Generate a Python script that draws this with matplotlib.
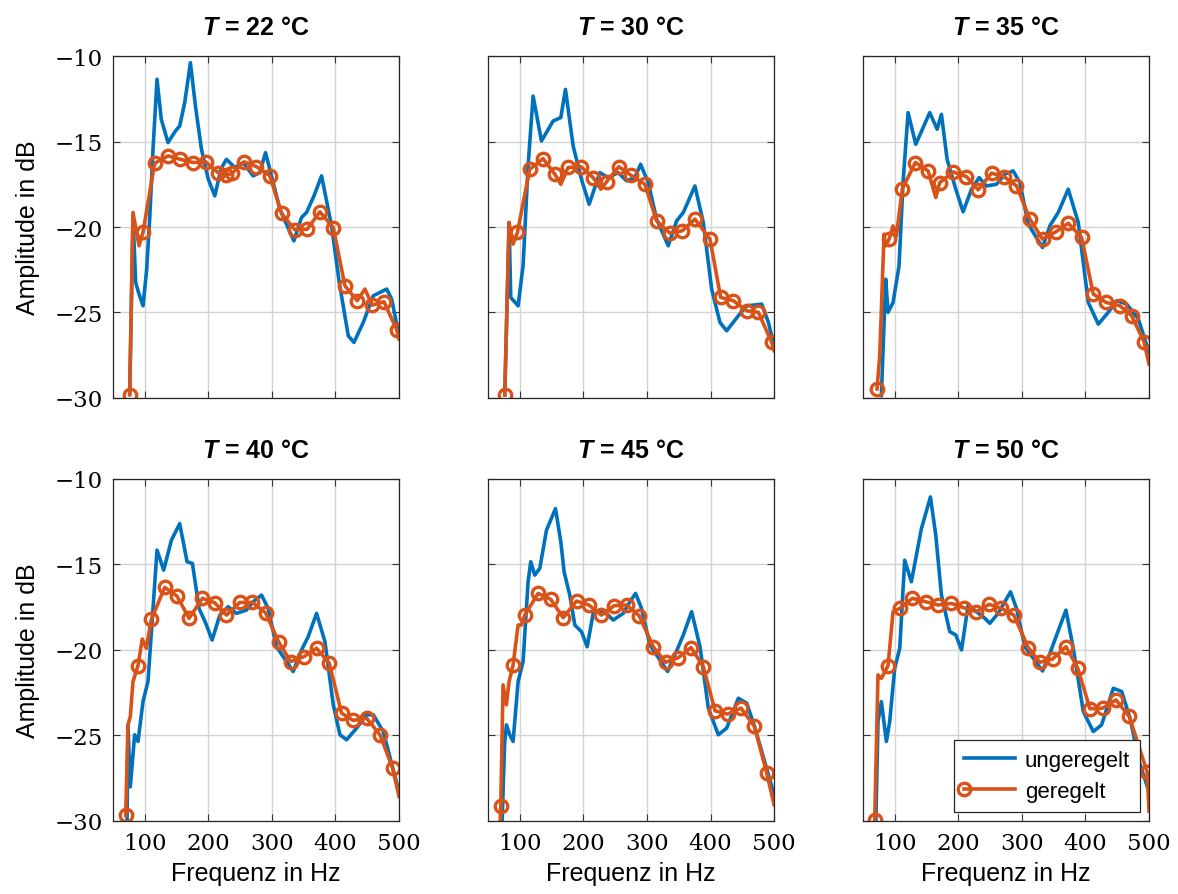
import matplotlib
matplotlib.use("Agg")
import matplotlib.pyplot as plt
from matplotlib.lines import Line2D
from matplotlib.legend_handler import HandlerLine2D

plt.rcParams['mathtext.fontset'] = 'custom'
plt.rcParams['mathtext.it'] = 'Liberation Sans:italic:bold'
plt.rcParams['mathtext.rm'] = 'Liberation Sans:bold'

temps = [22, 30, 35, 40, 45, 50]

# ungeregelt (blue)
f_u22 = [76.3, 81.5, 85.7, 90, 97.3, 103, 108, 113, 119.3, 126, 136.6, 148, 155, 163, 171.8, 180, 189.2, 200, 210.2, 220,
         228.5, 241.7, 254.8, 270.5, 281, 290, 299.4, 312.6, 334.6, 346.7, 354.6, 366, 378.2, 393.9, 406, 420.2, 429.1,
         443.8, 459.6, 480.6, 488.5, 500]
a_u22 = [-29.8, -19.35, -23.24, -23.8, -24.61, -22.5, -19.35, -15.45, -11.36, -13.7, -15.06, -14.4, -14.09, -12.7, -10.39,
         -13.0, -15.45, -17.2, -18.18, -16.6, -16.04, -16.52, -16.23, -17.01, -16.82, -15.65, -17.01, -18.96, -20.81,
         -19.44, -19.15, -18.2, -17.01, -19.93, -23.24, -26.36, -26.75, -25.58, -24.02, -23.63, -24.22, -26.36]

f_u30 = [76.3, 83.1, 85.7, 97.3, 105.1, 113, 120.9, 134, 152.4, 164.5, 171.8, 183.9, 197, 209.1, 225.9, 239, 254.8, 268,
         281, 290, 302, 315.2, 333.5, 346.7, 357.2, 375.5, 388.7, 401.8, 414.9, 425.4, 443.8, 457, 480.6, 491.1, 500]
a_u30 = [-29.82, -19.74, -24.12, -24.61, -22.27, -16.43, -12.34, -14.97, -13.8, -13.6, -11.95, -15.26, -17.21, -18.67,
         -16.82, -17.11, -16.82, -17.3, -17.11, -16.33, -17.4, -19.54, -21.1, -19.64, -19.15, -17.6, -19.74, -23.63,
         -25.58, -26.07, -25.19, -24.61, -24.51, -25.58, -26.94]

f_u35 = [78.9, 85.7, 89.4, 97.3, 106.7, 113, 120.9, 133, 155, 166.6, 173.4, 182.3, 196, 207.5, 220.7, 232.7, 244.3, 260,
         273.2, 286.3, 296.8, 309.9, 332.5, 344.1, 357.2, 372.9, 388.7, 404.4, 420.2, 435.9, 449.1, 464.9, 483.2, 500]
a_u35 = [-29.86, -23.05, -24.99, -24.41, -22.27, -17.4, -13.31, -15.16, -13.31, -14.28, -13.41, -16.04, -17.79, -19.11,
         -17.79, -17.11, -17.6, -17.5, -16.91, -16.72, -17.4, -19.83, -21.2, -19.93, -19.15, -17.79, -19.74, -24.41,
         -25.68, -24.99, -24.31, -24.51, -25.38, -27.33]

f_u40 = [72, 73.6, 77.3, 84.1, 89.4, 97.3, 105.1, 113, 119.3, 129.8, 141.9, 155, 166.6, 175, 185.5, 196, 206, 218.1,
         231.2, 244.3, 260, 270.5, 283.7, 294.2, 307.3, 333.5, 346.7, 357.2, 370.3, 383.5, 396.6, 407.1, 417.6, 433.3,
         449.1, 459.6, 475.3, 500]
a_u40 = [-30.5, -24.4, -28.0, -24.96, -25.35, -23.0, -21.85, -17.57, -14.16, -15.33, -13.58, -12.61, -14.84, -14.94,
         -17.57, -18.44, -19.42, -17.96, -17.47, -17.86, -17.67, -17.18, -16.79, -17.57, -19.81, -21.26, -20.0, -19.22,
         -17.86, -19.51, -23.21, -24.96, -25.25, -24.57, -23.79, -23.79, -24.77, -28.3]

f_u45 = [72, 76, 78.9, 84.1, 89.4, 97.3, 105.1, 113, 117.2, 123.5, 131.4, 141.9, 156.1, 164.5, 169.7, 178.6, 186.5, 197,
         206, 215.4, 225.9, 239, 246.9, 262.6, 273.2, 282.1, 291.5, 304.6, 332.5, 344.1, 357.2, 370.3, 383.5, 396.6,
         412.3, 425.4, 443.8, 457, 470.1, 500]
a_u45 = [-30.2, -25.5, -24.38, -24.96, -25.35, -21.85, -20.68, -16.01, -14.84, -15.62, -15.23, -13.0, -11.73, -13.68,
         -15.43, -16.79, -18.54, -18.93, -19.81, -17.86, -17.67, -17.96, -18.25, -17.86, -17.18, -16.69, -17.57, -19.71,
         -21.26, -20.29, -19.12, -17.76, -19.81, -23.4, -24.96, -24.57, -22.82, -23.11, -24.57, -28.46]

f_u50 = [70, 73.6, 78.9, 86.8, 92, 99.9, 107.8, 115.6, 126.1, 141.9, 156.1, 164.5, 173.4, 186.5, 196, 205, 215.4, 228.5,
         241.7, 249.5, 262.6, 271.6, 282.1, 291.5, 304.6, 332.5, 344.1, 355.6, 369.3, 380.8, 396.6, 412.3, 425.4, 443.8,
         457, 470.1, 485, 500]
a_u50 = [-30.5, -24.18, -23.02, -25.35, -24.18, -21.07, -19.9, -14.75, -16.01, -12.9, -11.05, -13.29, -16.79, -18.93,
         -19.12, -20.0, -17.37, -17.76, -18.15, -18.44, -17.86, -17.28, -16.6, -17.57, -19.81, -21.23, -20.2, -19.03,
         -17.67, -19.9, -23.6, -24.77, -24.38, -22.24, -22.43, -23.99, -26.6, -28.3]

# geregelt (orange), marker points
f_g22 = [76.3, 97.3, 115.6, 136.6, 156, 176, 196, 215.4, 227.5, 237.5, 256.4, 275.8, 296.8, 315.2, 336.2, 355.6, 375.5,
         396.6, 414.9, 434.3, 458, 476.4, 496.3]
a_g22 = [-29.8, -20.3, -16.27, -15.84, -16.04, -16.23, -16.19, -16.82, -16.97, -16.86, -16.19, -16.47, -17.0, -19.2,
         -20.16, -20.13, -19.11, -20.03, -23.44, -24.31, -24.57, -24.37, -26.0]
f_g30 = [76.3, 96.2, 115.6, 136.6, 155, 176, 196, 215.4, 236.4, 255.8, 274.7, 296.8, 315.2, 336.2, 355.6, 375.5, 399.2,
         416, 436, 457, 475.3, 496.3]
a_g30 = [-29.82, -20.32, -16.62, -16.0, -16.91, -16.52, -16.47, -17.11, -17.36, -16.47, -16.97, -17.5, -19.64, -20.36,
         -20.22, -19.54, -20.71, -24.12, -24.31, -24.9, -24.99, -26.75]
f_g35 = [72.1, 91, 112, 132.4, 152.4, 170.8, 191.8, 212.8, 231.2, 252.2, 271.6, 291.5, 312.6, 332.5, 353.5, 372.9, 393.9,
         412.3, 432.3, 454.3, 472.7, 492.1]
a_g35 = [-29.47, -20.71, -17.75, -16.23, -16.72, -17.4, -16.78, -17.05, -17.83, -16.85, -17.05, -17.59, -19.54, -20.71,
         -20.28, -19.78, -20.61, -23.92, -24.41, -24.61, -25.19, -26.71]
f_g40 = [70, 89.4, 110.4, 131.4, 150.8, 169.7, 190.7, 210.2, 228.5, 249.5, 269.5, 290, 311, 329.4, 350.4, 370.3, 390.3,
         409.7, 428.1, 449.1, 470.1, 490]
a_g40 = [-29.67, -20.91, -18.21, -16.34, -16.85, -18.15, -16.98, -17.24, -17.96, -17.22, -17.22, -17.82, -19.55, -20.68,
         -20.39, -19.9, -20.78, -23.7, -24.12, -23.99, -24.96, -26.91]
f_g45 = [70, 89.4, 107.8, 128.8, 148.7, 168.2, 189.2, 208.6, 228.5, 248.5, 267.9, 287.9, 309.9, 329.4, 349.3, 369.3,
         388.7, 407.1, 427, 448, 469, 488.5]
a_g45 = [-29.14, -20.88, -17.96, -16.69, -17.04, -18.11, -17.14, -17.37, -17.96, -17.41, -17.37, -18.0, -19.81, -20.72,
         -20.45, -19.86, -20.97, -23.56, -23.75, -23.4, -24.47, -27.2]
f_g50 = [68.4, 89.4, 107.8, 127.7, 148.7, 168.2, 189.2, 208.6, 228.5, 248.5, 267.9, 287.3, 309.9, 328.3, 348.3, 369.3,
         387.6, 407.1, 427, 448, 469, 497]
a_g50 = [-29.92, -20.91, -17.57, -16.98, -17.18, -17.37, -17.28, -17.53, -17.76, -17.33, -17.57, -17.96, -19.86, -20.72,
         -20.53, -19.81, -21.03, -23.44, -23.4, -22.92, -23.89, -27.14]

# geregelt, line points between markers
f_x22 = [81.5, 91, 446.4, 500]
a_x22 = [-19.15, -21.1, -23.63, -26.55]
f_x30 = [83.1, 89.4, 164.5, 227.5, 500]
a_x30 = [-19.74, -21.0, -17.5, -17.79, -27.23]
f_x35 = [76.3, 83.1, 85.7, 97.3, 102.5, 164.5, 500]
a_x35 = [-27.53, -20.42, -21.1, -19.93, -20.52, -18.28, -28.01]
f_x40 = [73.6, 77.3, 81.5, 96.2, 102.5, 500]
a_x40 = [-24.38, -23.89, -21.85, -19.36, -19.9, -28.56]
f_x45 = [68.4, 73.6, 78.9, 83.1, 97.3, 102.5, 500]
a_x45 = [-30.5, -22.04, -23.21, -21.85, -18.54, -18.54, -29.05]
f_x50 = [73.6, 78.9, 97.3, 500]
a_x50 = [-21.46, -21.66, -17.76, -29.43]

blue_f = [f_u22, f_u30, f_u35, f_u40, f_u45, f_u50]
blue_a = [a_u22, a_u30, a_u35, a_u40, a_u45, a_u50]
mark_f = [f_g22, f_g30, f_g35, f_g40, f_g45, f_g50]
mark_a = [a_g22, a_g30, a_g35, a_g40, a_g45, a_g50]
ext_f = [f_x22, f_x30, f_x35, f_x40, f_x45, f_x50]
ext_a = [a_x22, a_x30, a_x35, a_x40, a_x45, a_x50]

blue = '#0072BD'
orange = '#D95319'
sans = 'Liberation Sans'


class LeftMarker(HandlerLine2D):
    # draw the legend marker at the left end of the line
    def create_artists(self, *args, **kwargs):
        arts = super().create_artists(*args, **kwargs)
        for a in arts:
            a.set_markevery([0])
        return arts


fig = plt.figure(figsize=(11.78, 8.95), dpi=100)
lefts = [0.0959, 0.4143, 0.7326]
bottoms = [0.5542, 0.0816]
w, h = 0.2428, 0.3821

for i, t in enumerate(temps):
    r, c = divmod(i, 3)
    ax = fig.add_axes([lefts[c], bottoms[r], w, h])
    pts = sorted(zip(mark_f[i] + ext_f[i], mark_a[i] + ext_a[i]))
    ax.plot(blue_f[i], blue_a[i], color=blue, lw=2.6, solid_joinstyle='round')
    ax.plot([p[0] for p in pts], [p[1] for p in pts], color=orange, lw=2.6, solid_joinstyle='round')
    ax.plot(mark_f[i], mark_a[i], ls='none', marker='o', ms=9, mfc='none', mec=orange, mew=2.4)
    ax.set_xlim(50, 500)
    ax.set_ylim(-30, -10)
    ax.set_xticks([100, 200, 300, 400, 500])
    ax.set_yticks([-30, -25, -20, -15, -10])
    ax.grid(True, color='#d4d4d4', lw=1)
    ax.set_axisbelow(True)
    ax.tick_params(direction='in', top=True, right=True, length=5, width=0.8, color='#333333',
                   labelsize=16.5, labelfontfamily='DejaVu Serif')
    ax.tick_params(axis='x', pad=8)
    ax.tick_params(axis='y', pad=7.5)
    for sp in ax.spines.values():
        sp.set_color('#262626')
        sp.set_linewidth(0.9)
    if c != 0:
        ax.tick_params(axis='y', labelleft=False)
    else:
        ax.set_ylabel('Amplitude in dB', fontsize=18, family=sans, labelpad=10)
    if r == 0:
        ax.tick_params(axis='x', labelbottom=False)
    else:
        ax.set_xlabel('Frequenz in Hz', fontsize=18, family=sans, labelpad=5)
    ax.set_title(r'$T$ = %d °C' % t, fontsize=18, fontweight='bold', family=sans, pad=16)
    if i == 5:
        h_u = Line2D([], [], color=blue, lw=2.6)
        h_g = Line2D([], [], color=orange, lw=2.6, marker='o', ms=9, mfc='none', mew=2.4)
        leg = ax.legend([h_u, h_g], ['ungeregelt', 'geregelt'], loc='lower right', fancybox=False,
                        prop={'family': sans, 'size': 16}, framealpha=1, edgecolor='#262626',
                        handlelength=2.3, handletextpad=0.45, borderpad=0.45, labelspacing=0.45,
                        handler_map={h_g: LeftMarker(numpoints=1)}, borderaxespad=0.4)
        leg.get_frame().set_linewidth(0.9)

fig.savefig('out.png', dpi=100)
